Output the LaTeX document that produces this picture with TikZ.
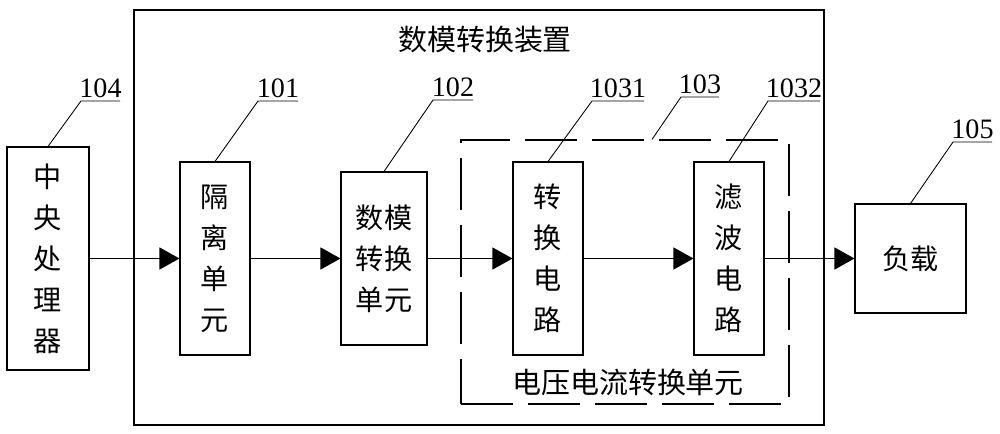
\documentclass[tikz,border=0pt]{standalone}
\usepackage{fontspec}
\setmainfont{Liberation Serif}
\newfontfamily\cjk{Noto Sans CJK SC}
\usetikzlibrary{arrows.meta,positioning,calc}
\tikzset{
  unitbox/.style={draw,line width=0.6pt,inner sep=0pt,align=center,
                  font=\cjk\fontsize{16}{23.3}\selectfont},
  groupbox/.style={draw,line width=0.6pt,dash pattern=on 10.4mm off 3mm},
  flow/.style={line width=0.6pt,-{Triangle[length=4mm,width=4.4mm]}},
  leader/.style={line width=0.5pt},
  refnum/.style={font=\fontsize{16}{18}\selectfont,anchor=south,inner sep=1.5pt},
}

\begin{document}
\begin{tikzpicture}[x=0.2mm,y=-0.2mm]
\useasboundingbox (0,0) rectangle (1000,434);

% ---------------- outer device and group ----------------
\node[draw,line width=0.7pt,minimum width=138mm,minimum height=83mm,inner sep=0pt]
  (device) at (479,217.5) {};
\node[font=\cjk\fontsize{16.5}{18}\selectfont] (title) at (485,40) {数模转换装置};
\node[groupbox,minimum width=65.6mm,minimum height=52.8mm,inner sep=0pt]
  (vi) at (625,272) {};
\node[font=\cjk\fontsize{16.5}{18}\selectfont] (vicap) at (628,382) {电压电流转换单元};

% ---------------- units ----------------
\node[unitbox,minimum width=16.4mm,minimum height=44.6mm] (cpu) at (48,258.5)
  {中\\央\\处\\理\\器};
\node[unitbox,minimum width=14mm,minimum height=38.6mm] (isolate) at (215,258.5)
  {隔\\离\\单\\元};
\node[unitbox,minimum width=17.2mm,minimum height=34.6mm] (dac) at (384,258.5)
  {数模\\转换\\单元};
\node[unitbox,minimum width=14mm,minimum height=38.6mm] (conv) at (548,258.5)
  {转\\换\\电\\路};
\node[unitbox,minimum width=14mm,minimum height=38.6mm] (filter) at (729,258.5)
  {滤\\波\\电\\路};
\node[unitbox,minimum width=22.2mm,minimum height=21.8mm] (load) at (910.5,258.5)
  {负载};

% signal path
\foreach \a/\b in {cpu/isolate,isolate/dac,dac/conv,conv/filter,filter/load}{
  \draw[flow] (\a.east) -- (\b.west);
}

% ---------------- reference numerals ----------------
\coordinate (vitop) at ($(vi.north)+(27,0)$);
\foreach \from/\bx/\by/\ex/\num in {cpu.north/81/101/120/104,
    isolate.north/258/101/298/101, dac.north/433/100/473/102,
    conv.north/592/101/644/1031, vitop/681/97/719/103,
    filter.north/768/101/820/1032, load.north/953/142/992/105}{
  \coordinate (b\num) at (\bx,\by);
  \coordinate (e\num) at (\ex,\by);
  \draw[leader] (\from) -- (b\num) -- (e\num);
  \node[refnum] (n\num) at ($(b\num)!0.5!(e\num)$) {\num};
}

\end{tikzpicture}
\end{document}
